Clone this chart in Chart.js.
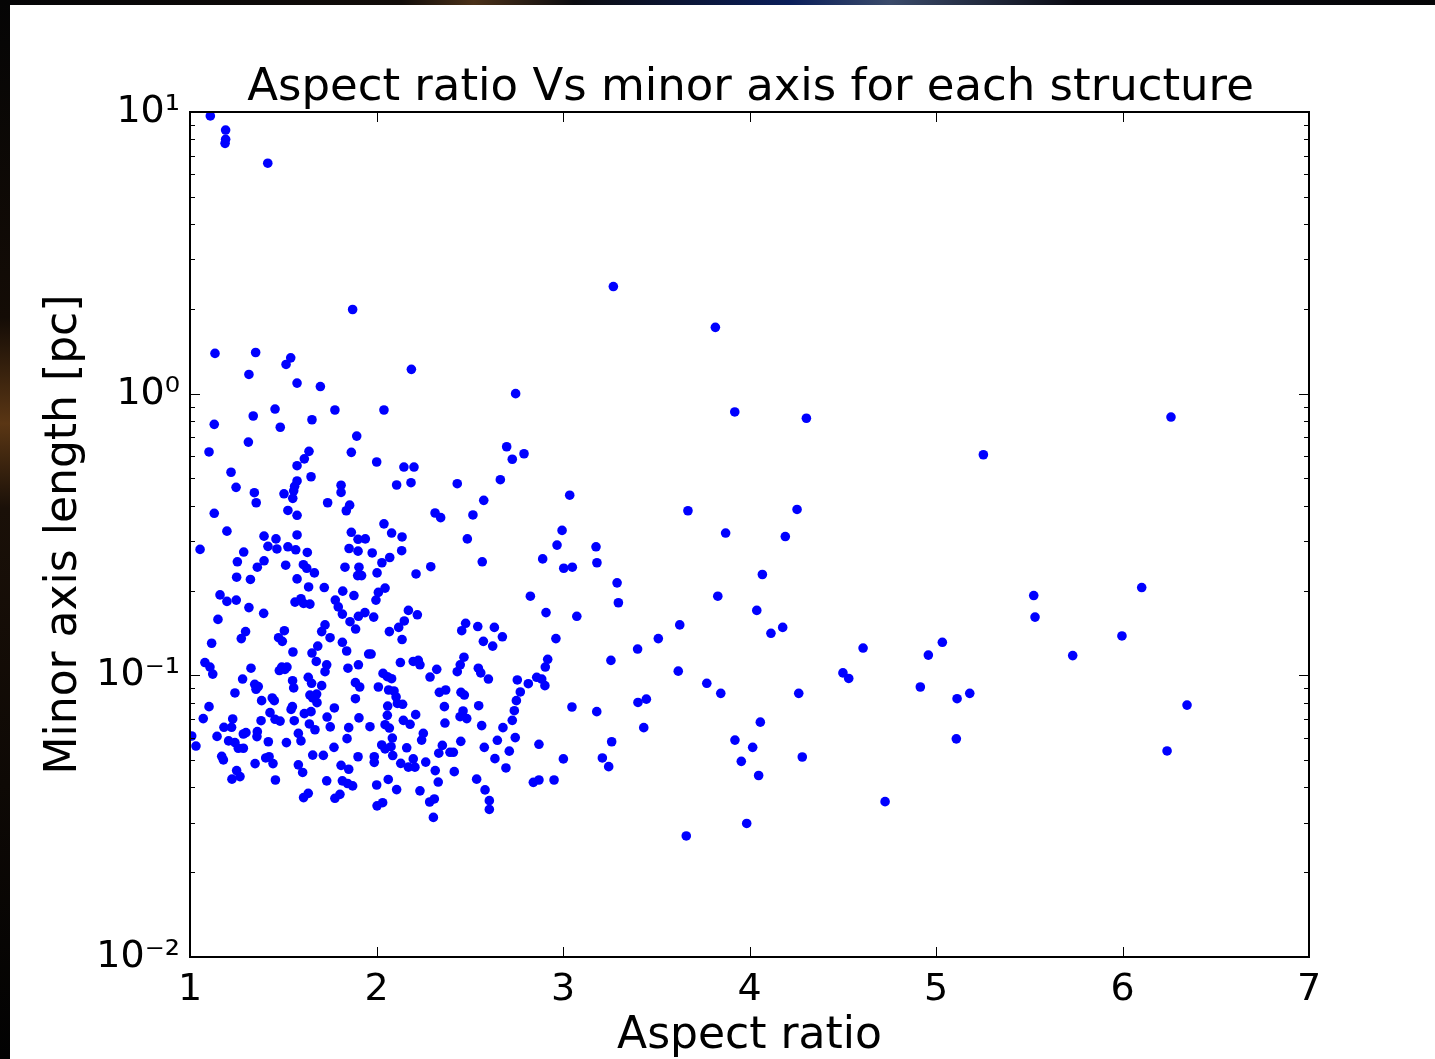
<!DOCTYPE html>
<html>
<head>
<meta charset="utf-8">
<script src="https://cdn.jsdelivr.net/npm/chart.js@4"></script>
<style>
html,body{margin:0;padding:0;background:#fff;}
canvas{display:block;}
</style>
</head>
<body>
<canvas id="c" width="1435" height="1059"></canvas>
<script>
const chartTitle = 'Aspect ratio Vs minor axis for each structure';
const xTitle = 'Aspect ratio';
const yTitle = 'Minor axis length [pc]';
const xTicks = [1, 2, 3, 4, 5, 6, 7];
const yTicks = [0.01, 0.1, 1, 10];
const yTickLabels = ['10⁻²', '10⁻¹', '10⁰', '10¹'];

// largest structures (top-left)
const xTop = [1.109, 1.191, 1.191, 1.188, 1.417, 1.872];
const yTop = [9.68, 8.63, 8.00, 7.74, 6.58, 1.99];

// aspect ratio 3.3 - 5.1
const xMid = [3.270, 3.817, 3.921, 4.305, 3.670, 4.255, 3.872, 4.192, 4.069, 3.830,
  4.039, 3.626, 3.511, 3.400, 4.115, 4.178, 3.618, 3.771, 3.846, 4.264,
  4.501, 4.532, 4.609, 4.959, 5.034, 4.916, 3.402, 3.447, 3.433, 4.058,
  3.922, 4.017, 3.956, 4.049, 4.283, 4.727, 3.985, 3.661];
const yMid = [2.40, 1.72, 0.861, 0.818, 0.384, 0.388, 0.320, 0.311, 0.228, 0.191,
  0.170, 0.151, 0.135, 0.124, 0.141, 0.148, 0.1035, 0.0937, 0.0863, 0.0863,
  0.102, 0.0975, 0.125, 0.118, 0.131, 0.0909, 0.0801, 0.0823, 0.0652, 0.0682,
  0.0589, 0.0555, 0.0495, 0.0441, 0.0513, 0.0356, 0.0298, 0.0269];

// aspect ratio > 5.1
const xFar = [6.260, 5.254, 5.524, 5.531, 6.103, 5.997, 5.733, 5.113, 5.181, 5.109, 6.346, 6.239];
const yFar = [0.826, 0.607, 0.192, 0.161, 0.205, 0.138, 0.1175, 0.0826, 0.0863, 0.0595, 0.0784, 0.0539];

// aspect ratio 2.2 - 3.2, upper
const xUp = [2.187, 2.746, 2.698, 2.728, 2.791, 2.201, 2.185, 2.433, 2.664, 2.575,
  3.036, 2.314, 2.344, 2.517, 2.487, 2.995, 2.968, 3.177, 2.891];
const yUp = [1.22, 1.00, 0.648, 0.585, 0.612, 0.549, 0.483, 0.479, 0.495, 0.418,
  0.436, 0.377, 0.363, 0.371, 0.305, 0.327, 0.290, 0.286, 0.259];

// aspect ratio 2.2 - 3.3, lower (part 1)
const xLow1 = [2.212, 2.291, 2.567, 3.004, 3.050, 3.182, 3.290, 3.297, 2.825, 2.909,
  3.074, 2.171, 2.219, 2.478, 2.457, 2.543, 2.632, 2.675, 2.573, 2.623,
  2.962, 2.469, 2.449, 2.433, 2.546, 2.559, 2.600, 2.918, 2.905, 3.257,
  2.197, 2.224, 2.233, 2.323, 2.287, 2.755, 2.814, 2.859, 2.886, 2.903,
  2.771, 2.750, 2.739, 2.728, 2.744, 2.712, 2.694, 2.648];
const yLow1 = [0.229, 0.243, 0.253, 0.240, 0.242, 0.251, 0.213, 0.181, 0.191, 0.167,
  0.162, 0.170, 0.164, 0.153, 0.144, 0.149, 0.148, 0.137, 0.132, 0.127,
  0.135, 0.116, 0.109, 0.103, 0.106, 0.102, 0.0970, 0.114, 0.107, 0.113,
  0.112, 0.113, 0.109, 0.105, 0.0986, 0.0963, 0.0934, 0.0984, 0.0970, 0.0919,
  0.0873, 0.0813, 0.0749, 0.0692, 0.0601, 0.0538, 0.0469, 0.0588];

// aspect ratio 2.2 - 3.3, lower (part 2)
const xLow2 = [2.635, 2.678, 2.578, 2.564, 2.548, 2.537, 2.582, 2.605, 2.605, 2.337,
  2.371, 2.453, 2.471, 2.364, 2.464, 2.484, 2.448, 2.367, 2.452, 2.353,
  2.334, 2.394, 2.412, 2.315, 2.417, 2.331, 2.285, 2.310, 2.305, 2.210,
  2.180, 2.251, 2.242, 2.162, 2.197, 2.171, 2.206, 2.264, 2.233, 2.871,
  3.002, 2.841, 2.871, 2.952, 3.048, 3.181, 3.261, 3.211, 3.245];
const yLow2 = [0.0506, 0.0652, 0.0555, 0.0663, 0.0780, 0.0428, 0.0392, 0.0359, 0.0334, 0.0870,
  0.0887, 0.0870, 0.0851, 0.0774, 0.0747, 0.0702, 0.0713, 0.0677, 0.0583, 0.0564,
  0.0529, 0.0533, 0.0533, 0.0459, 0.0455, 0.0418, 0.0355, 0.0364, 0.0313, 0.0725,
  0.0670, 0.0622, 0.0589, 0.0553, 0.0505, 0.0472, 0.0472, 0.0492, 0.0389, 0.0569,
  0.0505, 0.0417, 0.0425, 0.0425, 0.0772, 0.0743, 0.0581, 0.0509, 0.0474];

// aspect ratio 1 - 2.2, upper
const xCoreUp = [1.134, 1.352, 1.540, 1.515, 1.316, 1.574, 1.699, 1.456, 1.777, 2.040,
  1.130, 1.339, 1.484, 1.654, 1.894, 1.313, 1.102, 1.638, 1.613, 1.865,
  2.001, 1.574, 2.147, 1.220, 1.649, 1.574, 1.810, 1.247, 1.561, 1.504,
  1.556, 1.345, 1.810, 2.108, 1.551, 1.355, 1.738, 1.856, 1.838, 1.130,
  1.525, 1.574, 2.040, 1.198, 1.865, 2.081, 1.397, 1.574, 1.461, 1.901,
  1.940, 2.137, 1.054, 1.418, 1.466, 1.525, 1.567, 1.288, 1.629, 1.853,
  1.901, 1.977, 2.135, 2.071];
const yCoreUp = [1.39, 1.40, 1.34, 1.27, 1.17, 1.09, 1.06, 0.882, 0.875, 0.875,
  0.778, 0.833, 0.760, 0.808, 0.707, 0.673, 0.621, 0.624, 0.587, 0.619,
  0.572, 0.555, 0.549, 0.526, 0.507, 0.490, 0.473, 0.465, 0.469, 0.441,
  0.452, 0.445, 0.446, 0.474, 0.425, 0.410, 0.410, 0.402, 0.384, 0.376,
  0.385, 0.370, 0.345, 0.325, 0.322, 0.320, 0.312, 0.315, 0.305, 0.304,
  0.305, 0.310, 0.280, 0.287, 0.281, 0.286, 0.279, 0.274, 0.273, 0.282,
  0.276, 0.272, 0.277, 0.262];

// aspect ratio 1 - 2.2, 0.1 - 0.26 pc
const xCoreA = [1.254, 1.397, 1.361, 1.513, 1.608, 1.626, 1.667, 1.831, 1.906, 1.899,
  1.920, 2.003, 2.029, 1.250, 1.324, 1.574, 1.636, 1.720, 1.819, 1.879,
  2.010, 2.046, 1.997, 1.161, 1.198, 1.248, 1.563, 1.595, 1.609, 1.643,
  1.779, 1.795, 1.817, 1.316, 1.395, 1.150, 1.858, 1.888, 1.903, 1.938,
  1.985, 2.069, 2.119, 2.149, 2.137, 1.298, 1.275, 1.506, 1.475, 1.495,
  1.724, 1.706, 1.751, 1.817, 1.840, 1.116, 1.552, 1.685, 1.654, 1.958,
  1.971, 1.080, 1.107, 1.122, 1.327, 1.492, 1.479, 1.509, 1.520, 1.677,
  1.733, 1.724, 1.847, 1.903, 2.128];
const yCoreA = [0.253, 0.255, 0.242, 0.246, 0.247, 0.240, 0.231, 0.242, 0.242, 0.226,
  0.226, 0.231, 0.251, 0.223, 0.219, 0.220, 0.206, 0.205, 0.199, 0.192,
  0.197, 0.204, 0.185, 0.193, 0.183, 0.185, 0.182, 0.187, 0.180, 0.179,
  0.185, 0.175, 0.165, 0.174, 0.166, 0.158, 0.155, 0.146, 0.162, 0.167,
  0.161, 0.143, 0.148, 0.156, 0.134, 0.143, 0.135, 0.144, 0.136, 0.132,
  0.151, 0.143, 0.136, 0.131, 0.122, 0.130, 0.121, 0.127, 0.120, 0.119,
  0.119, 0.111, 0.107, 0.101, 0.106, 0.107, 0.104, 0.105, 0.107, 0.112,
  0.109, 0.103, 0.106, 0.109, 0.111];

// aspect ratio 1 - 2.2, 0.06 - 0.1 pc
const xCoreB = [1.282, 1.347, 1.366, 1.354, 1.550, 1.556, 1.634, 1.652, 1.706, 1.887,
  1.910, 2.010, 2.035, 2.058, 2.081, 2.065, 2.094, 2.105, 2.112, 2.140,
  1.241, 1.384, 1.441, 1.452, 1.643, 1.679, 1.681, 1.658, 1.549, 1.542,
  1.774, 1.887, 2.060, 1.102, 1.071, 1.229, 1.429, 1.456, 1.483, 1.381,
  1.559, 1.613, 1.649, 1.735, 1.906, 2.058, 2.144, 1.009];
const yCoreB = [0.0970, 0.0929, 0.0912, 0.0892, 0.0957, 0.0902, 0.0984, 0.0937, 0.0919, 0.0942,
  0.0909, 0.0909, 0.1016, 0.0989, 0.0973, 0.0887, 0.0880, 0.0838, 0.0795, 0.0789,
  0.0866, 0.0813, 0.0831, 0.0813, 0.0851, 0.0858, 0.0800, 0.0831, 0.0774, 0.0757,
  0.0766, 0.0826, 0.0778, 0.0774, 0.0702, 0.0700, 0.0737, 0.0698, 0.0688, 0.0690,
  0.0690, 0.0731, 0.0743, 0.0711, 0.0706, 0.0721, 0.0692, 0.0609];

// aspect ratio 1 - 2.2, below 0.06 pc
const xCoreC = [1.032, 1.145, 1.182, 1.223, 1.207, 1.241, 1.259, 1.286, 1.300, 1.286,
  1.361, 1.359, 1.420, 1.517, 1.581, 1.595, 1.640, 1.670, 1.752, 1.851,
  1.842, 1.965, 2.046, 2.069, 2.085, 2.028, 2.046, 2.078, 1.170, 1.179,
  1.250, 1.268, 1.225, 1.349, 1.406, 1.424, 1.445, 1.458, 1.581, 1.604,
  1.658, 1.715, 1.772, 1.810, 1.851, 1.901, 1.988, 1.988, 2.087, 1.733,
  1.817, 1.845, 1.872, 2.001, 2.063, 2.108, 1.609, 1.634, 1.777, 1.804,
  2.003, 2.033, 2.130];
const yCoreC = [0.0561, 0.0607, 0.0654, 0.0654, 0.0585, 0.0577, 0.0551, 0.0551, 0.0626, 0.0619,
  0.0631, 0.0606, 0.0581, 0.0577, 0.0622, 0.0585, 0.0672, 0.0641, 0.0656, 0.0652,
  0.0596, 0.0657, 0.0668, 0.0650, 0.0599, 0.0566, 0.0548, 0.0558, 0.0516, 0.0501,
  0.0459, 0.0437, 0.0428, 0.0486, 0.0509, 0.0514, 0.0486, 0.0425, 0.0481, 0.0452,
  0.0521, 0.0520, 0.0555, 0.0479, 0.0464, 0.0514, 0.0514, 0.0491, 0.0519, 0.0422,
  0.0422, 0.0413, 0.0405, 0.0408, 0.0427, 0.0393, 0.0368, 0.0381, 0.0366, 0.0378,
  0.0344, 0.0353, 0.0487];

const aspectRatio = [].concat(xTop, xMid, xFar, xUp, xLow1, xLow2, xCoreUp, xCoreA, xCoreB, xCoreC);
const minorAxis = [].concat(yTop, yMid, yFar, yUp, yLow1, yLow2, yCoreUp, yCoreA, yCoreB, yCoreC);
const points = aspectRatio.map((a, i) => ({ x: a, y: minorAxis[i] }));

const FONT = '"DejaVu Sans", "Liberation Sans", sans-serif';

const decor = {
  id: 'decor',
  beforeDraw(chart) {
    const { ctx, width: W, height: H } = chart;
    ctx.save();
    ctx.fillStyle = '#ffffff';
    ctx.fillRect(0, 0, W, H);
    const g = ctx.createLinearGradient(0, 0, W, 0);
    g.addColorStop(0, '#050507');
    g.addColorStop(0.28, '#120d0a');
    g.addColorStop(0.33, '#4a3018');
    g.addColorStop(0.4, '#0c0c10');
    g.addColorStop(0.55, '#0a1e5a');
    g.addColorStop(0.62, '#3a4a6a');
    g.addColorStop(0.75, '#0a0a12');
    g.addColorStop(1, '#050507');
    ctx.fillStyle = g;
    ctx.fillRect(0, 0, W, 5);
    const g2 = ctx.createLinearGradient(0, 0, 0, H);
    g2.addColorStop(0, '#050505');
    g2.addColorStop(0.3, '#140c06');
    g2.addColorStop(0.4, '#5a3614');
    g2.addColorStop(0.48, '#1a1008');
    g2.addColorStop(1, '#020202');
    ctx.fillStyle = g2;
    ctx.fillRect(0, 0, 10, H);
    ctx.restore();
  },
  afterDraw(chart) {
    const { ctx, chartArea: a, scales: { x, y } } = chart;
    ctx.save();
    ctx.strokeStyle = '#000';
    ctx.lineWidth = 1;
    ctx.beginPath();
    xTicks.forEach(v => {
      const px = Math.round(x.getPixelForValue(v)) + 0.5;
      ctx.moveTo(px, a.bottom); ctx.lineTo(px, a.bottom - 10);
      ctx.moveTo(px, a.top); ctx.lineTo(px, a.top + 10);
    });
    for (let e = -2; e < 1; e++) {
      for (let k = 1; k <= 9; k++) {
        const v = k * Math.pow(10, e);
        const py = Math.round(y.getPixelForValue(v)) + 0.5;
        const len = k === 1 ? 10 : 5;
        ctx.moveTo(a.left, py); ctx.lineTo(a.left + len, py);
        ctx.moveTo(a.right, py); ctx.lineTo(a.right - len, py);
      }
    }
    ctx.stroke();
    ctx.lineWidth = 2;
    ctx.strokeRect(a.left, a.top, a.right - a.left, a.bottom - a.top);
    ctx.fillStyle = '#000';
    ctx.font = '45px ' + FONT;
    ctx.textAlign = 'center';
    ctx.textBaseline = 'alphabetic';
    ctx.fillText(chartTitle, (a.left + a.right) / 2 + 1, 100);
    ctx.restore();
  }
};

new Chart(document.getElementById('c'), {
  type: 'scatter',
  data: {
    datasets: [{
      data: points,
      backgroundColor: '#0000ff',
      borderWidth: 0,
      pointRadius: 4.8,
      pointHoverRadius: 4.8
    }]
  },
  options: {
    responsive: false,
    animation: false,
    events: [],
    layout: { padding: { top: 112, right: 126, bottom: 0, left: 0 } },
    plugins: { legend: { display: false }, title: { display: false }, tooltip: { enabled: false } },
    scales: {
      x: {
        type: 'linear',
        min: 1, max: 7,
        afterFit(s) { s.height = 102; },
        afterBuildTicks(s) { s.ticks = xTicks.map(v => ({ value: v })); },
        grid: { display: false, drawTicks: false },
        border: { display: false },
        ticks: {
          color: '#000',
          padding: 10,
          maxRotation: 0,
          font: { family: FONT, size: 38 },
          callback: v => String(v)
        },
        title: {
          display: true, text: xTitle, color: '#000',
          font: { family: FONT, size: 44, lineHeight: 1 },
          padding: { top: 0, bottom: 0 }
        }
      },
      y: {
        type: 'logarithmic',
        min: 0.01, max: 10,
        afterFit(s) { s.width = 190; },
        afterBuildTicks(s) { s.ticks = yTicks.map(v => ({ value: v })); },
        grid: { display: false, drawTicks: false },
        border: { display: false },
        ticks: {
          color: '#000',
          padding: 10,
          font: { family: FONT, size: 38 },
          callback: (v, i) => yTickLabels[i]
        },
        title: {
          display: true, text: yTitle, color: '#000',
          font: { family: FONT, size: 44, lineHeight: 1 },
          padding: { top: 43, bottom: 0 }
        }
      }
    }
  },
  plugins: [decor]
});
</script>
</body>
</html>
